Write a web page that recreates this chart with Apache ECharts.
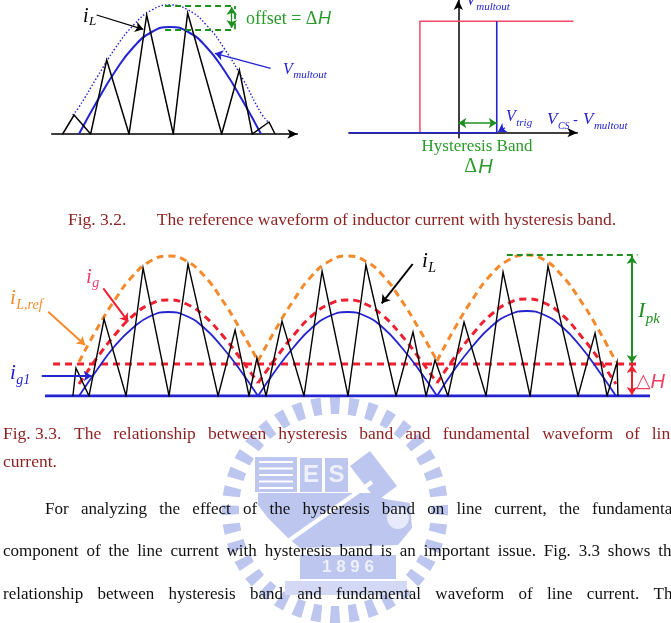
<!DOCTYPE html>
<html><head><meta charset="utf-8">
<script src="https://cdn.jsdelivr.net/npm/echarts@6/dist/echarts.min.js"></script>
<style>html,body{margin:0;padding:0;background:#fff;}#c{width:671px;height:623px;}</style>
</head><body><div id="c"></div>
<script>
// ---------------- data ----------------
// Fig 3.2 left : time (arbitrary, one half line-cycle = 10) vs. amplitude
const vMultout   = [[0,0],[1,0.33],[2,0.63],[3,0.87],[4,1.02],[5,1.07],[6,1.02],[7,0.87],[8,0.63],[9,0.33],[10,0]];
const vOffsetRef = [[-0.35,0.19],[0,0.27],[1,0.57],[2,0.86],[3,1.09],[4,1.24],[5,1.29],[6,1.24],[7,1.09],[8,0.85],[9,0.55],[10,0.21],[10.4,0.12]];
const iLRefWave  = [[-0.90,0],[-0.27,0.19],[0.64,0],[1.52,0.74],[2.75,0],[3.72,1.19],[5.18,0],[5.97,1.21],[7.84,0],[8.81,0.64],[9.52,0],[10.44,0.12],[10.77,0]];
// Fig 3.2 right : hysteresis comparator (x in units of Vtrig)
const hysRise = [[-1,0],[-1,1],[3,1]];
const hysFall = [[-2.85,0],[1,0],[1,1]];
// Fig 3.3 : time in ms (half line-cycle = 10 ms), current in p.u.
const halfCycleStart = [0, 10, 20];
const ig1Vals   = [[0,0.26,0.50,0.68,0.80,0.84,0.80,0.68,0.49,0.26,0],
                   [0,0.26,0.49,0.68,0.80,0.84,0.80,0.68,0.49,0.26,0],
                   [0,0.27,0.50,0.69,0.81,0.85,0.81,0.69,0.50,0.26,0]];
const igVals    = [[0.12,0.38,0.61,0.80,0.92,0.96,0.92,0.80,0.61,0.38,0.13],
                   [0.13,0.38,0.61,0.80,0.92,0.96,0.92,0.80,0.61,0.38,0.13],
                   [0.13,0.39,0.62,0.81,0.93,0.97,0.93,0.81,0.61,0.38,0.12]];
const iLrefVals = [[0.34,0.67,0.96,1.20,1.35,1.40,1.35,1.20,0.96,0.67,0.35],
                   [0.35,0.67,0.96,1.20,1.35,1.40,1.35,1.20,0.96,0.67,0.35],
                   [0.35,0.68,0.97,1.21,1.36,1.41,1.36,1.20,0.96,0.67,0.34]];
const iLWave = [[-0.34,0],[-0.17,0.28],[0.56,0],[1.40,0.77],[2.63,0],[3.58,1.28],[5.03,0],[6.09,1.32],[7.77,0],[8.72,0.66],[9.50,0],[9.94,0.38],[10.45,0],
                [11.34,0.75],[12.57,0],[13.58,1.25],[15.03,0],[16.03,1.31],[17.71,0],[18.66,0.64],[19.39,0],[19.89,0.36],[20.61,0],
                [21.51,0.74],[22.74,0],[23.69,1.24],[25.20,0],[26.20,1.30],[27.88,0],[28.83,0.63],[29.50,0],[30.06,0.34],[30.11,0]];
const hystLevel = [[-1.45,0.32],[31.2,0.32]];
const zeroLine  = [[-1.9,0],[31.9,0]];

// ---------------- styles ----------------
const BLUE='#2323d2', RDASH='#ef1f30', ORANGE='#f48a2c', GREEN='#1f8f1f', HRED='#f04a68', CAP='#8c1f1f';
const SERIF='"Liberation Serif"', SANS='"Liberation Sans"';

const cv=document.createElement('canvas'); const ctx=cv.getContext('2d');
function mw(t,f){ctx.font=f;return ctx.measureText(t).width;}
function T(x,y,text,font,fill,align){
  return {type:'text',x:x,y:y,z:50,silent:true,style:{text:text,font:font,fill:fill,
    align:align||'left',textAlign:align||'left',verticalAlign:'middle',textVerticalAlign:'middle'}};
}
function SUB(x,y,m,s,fill,ms,ss,dy,fam){
  fam=fam||SERIF;
  const fm='italic '+ms+'px '+fam, fs='italic '+ss+'px '+fam;
  const w=mw(m,fm);
  return [T(x,y,m,fm,fill),T(x+w+0.5,y+dy,s,fs,fill)];
}
function justify(words,x0,x1,y,font,fill){
  const ws=words.map(w=>mw(w,font)); const tot=ws.reduce((a,b)=>a+b,0);
  const gap=(x1-x0-tot)/(words.length-1); let x=x0; const out=[];
  words.forEach((w,i)=>{out.push(T(x,y,w,font,fill));x+=ws[i]+gap;});
  return out;
}

// ---------------- axes ----------------
const noAx={axisTick:{show:false},axisLabel:{show:false},splitLine:{show:false}};
const grids=[
  {left:51.7,width:245.7,top:4,height:130},
  {left:348.9,width:228.5,top:0,height:137.7},
  {left:34.25,width:626.5,top:246,height:150}
];
grids.forEach(g=>{g.outerBoundsMode='none';g.containLabel=false;});
const xAxes=[
  Object.assign({gridIndex:0,type:'value',min:-1.5,max:12,axisLine:{show:true,onZero:true,symbol:['none','arrow'],symbolSize:[7,10],lineStyle:{color:'#000',width:1.5}}},noAx),
  Object.assign({gridIndex:1,type:'value',min:-2.85,max:3.1,axisLine:{show:true,onZero:true,symbol:['none','arrow'],symbolSize:[7,10],lineStyle:{color:'#000',width:1.5}}},noAx),
  Object.assign({gridIndex:2,type:'value',min:-2.5,max:32.5,axisLine:{show:false}},noAx)
];
const yAxes=[
  Object.assign({gridIndex:0,type:'value',min:0,max:1.3,axisLine:{show:false}},noAx),
  Object.assign({gridIndex:1,type:'value',min:-0.045,max:1.19,axisLine:{show:true,onZero:true,symbol:['none','arrow'],symbolSize:[7,10],lineStyle:{color:'#000',width:1.5}}},noAx),
  Object.assign({gridIndex:2,type:'value',min:0,max:1.5,axisLine:{show:false}},noAx)
];

// ---------------- series ----------------
function L(g,data,color,width,type,smooth,z){
  return {type:'line',xAxisIndex:g,yAxisIndex:g,data:data,showSymbol:false,symbol:'none',silent:true,
    smooth:smooth||false,z:z||2,lineStyle:{color:color,width:width,type:type||'solid',cap:'butt',join:'miter'}};
}
function ARROW(g,from,to,color,width,both,dashed){
  return {type:'line',xAxisIndex:g,yAxisIndex:g,data:[],silent:true,
    markLine:{silent:true,animation:false,symbol:dashed?['none','none']:(both?['arrow','arrow']:['none','arrow']),symbolSize:8,
      label:{show:false},emphasis:{disabled:true},
      lineStyle:{color:color,width:width,type:dashed?[6,4]:'solid'},
      data:[[{coord:from},{coord:to}]]}};
}
const series=[];
// Fig 3.2 left
series.push(L(0,vOffsetRef,BLUE,1.4,[1.5,2],true));
series.push(L(0,vMultout,BLUE,2,'solid',true));
series.push(L(0,iLRefWave,'#000',1.5));
series.push(ARROW(0,[0.97,1.19],[3.53,1.047],'#000',1.3));
series.push(ARROW(0,[10.53,0.657],[7.47,0.807],BLUE,1.3));
series.push(ARROW(0,[8.39,1.06],[8.39,1.27],GREEN,1.3,true));
series.push(ARROW(0,[4.73,1.28],[8.57,1.28],GREEN,1.8,false,true));
series.push(ARROW(0,[4.73,1.047],[8.57,1.047],GREEN,1.8,false,true));
series.push(ARROW(0,[8.57,1.047],[8.57,1.28],GREEN,1.8,false,true));
// Fig 3.2 right
series.push(L(1,hysRise,HRED,1.5));
series.push(L(1,hysFall,BLUE,1.6,'solid',false,3));
series.push(ARROW(1,[0,0.087],[1,0.087],GREEN,1.5,true));
series.push(ARROW(1,[1.216,0.045],[1.034,0.009],BLUE,1.2));
// Fig 3.3
series.push(L(2,zeroLine,BLUE,3));
series.push(L(2,hystLevel,RDASH,3,[7,5]));
halfCycleStart.forEach((s,k)=>{
  series.push(L(2,iLrefVals[k].map((v,j)=>[s+j,v]),ORANGE,3,[7,5],true));
  series.push(L(2,igVals[k].map((v,j)=>[s+j,v]),RDASH,3,[7,5],true));
  series.push(L(2,ig1Vals[k].map((v,j)=>[s+j,v]),BLUE,1.8,'solid',true));
});
series.push(L(2,iLWave,'#000',1.4,'solid',false,4));
series.push(ARROW(2,[18.64,1.32],[16.91,0.927],'#000',2));
series.push(ARROW(2,[1.36,1.077],[2.75,0.743],RDASH,2));
series.push(ARROW(2,[-1.72,0.843],[0.335,0.51],ORANGE,2));
series.push(ARROW(2,[-2.08,0.2],[0.71,0.2],BLUE,2));
series.push(ARROW(2,[30.89,1.40],[30.89,0.33],GREEN,2,true));
series.push(ARROW(2,[30.89,0.31],[30.89,0.01],RDASH,2,true));
series.push(ARROW(2,[23.9,1.41],[31.2,1.41],GREEN,2.2,false,true));

// ---------------- graphic: watermark ----------------
const WM='#bcc6ee', els=[];
const C=[335,510];
for(let i=0;i<36;i++){
  const a=i*Math.PI*2/36, d=[Math.cos(a),Math.sin(a)], t=[-Math.sin(a),Math.cos(a)], r1=96,r2=113,w=4;
  const p=(r,s)=>[C[0]+r*d[0]+s*w*t[0],C[1]+r*d[1]+s*w*t[1]];
  els.push({type:'polygon',z:-5,silent:true,shape:{points:[p(r1,-1),p(r1,1),p(r2,1.3),p(r2,-1.3)]},style:{fill:WM}});
}
els.push({type:'rect',z:-5,silent:true,shape:{x:255,y:457,width:42,height:35},style:{fill:WM}});
for(let k=0;k<5;k++) els.push({type:'rect',z:-4,silent:true,shape:{x:259,y:461+k*6.5,width:34,height:2},style:{fill:'#fff'}});
els.push({type:'rect',z:-5,silent:true,shape:{x:300,y:458,width:22,height:34},style:{fill:WM}});
els.push({type:'rect',z:-5,silent:true,shape:{x:325,y:458,width:23,height:34},style:{fill:WM}});
els.push({type:'polygon',z:-5,silent:true,shape:{points:[[350,466],[370,451],[397,486],[377,501]]},style:{fill:WM}});
els.push({type:'polygon',z:-5,silent:true,shape:{points:[[258,493],[372,493],[385,499],[410,503],[412,528],[398,545],[300,548],[288,538],[268,518],[258,505]]},style:{fill:WM}});
els.push({type:'line',z:-4,silent:true,shape:{x1:281,y1:546,x2:372,y2:482},style:{stroke:'#fff',lineWidth:4}});
els.push({type:'circle',z:-4,silent:true,shape:{cx:398,cy:518,r:11},style:{fill:'#e6eafa'}});
els.push({type:'rect',z:-5,silent:true,shape:{x:300,y:555,width:96,height:24},style:{fill:WM}});
els.push({type:'rect',z:-5,silent:true,shape:{x:285,y:581,width:122,height:14},style:{fill:'#d3d9f4'}});
els.push(Object.assign(T(311,475,'E','bold 24px '+SANS,'#eef0fb','center'),{z:-3}));
els.push(Object.assign(T(336.5,475,'S','bold 24px '+SANS,'#eef0fb','center'),{z:-3}));
els.push(Object.assign(T(374,476,'A','bold 22px '+SANS,'#eef0fb','center'),{z:-3,rotation:0.6,originX:374,originY:476}));
els.push(Object.assign(T(348,567,'1 8 9 6','bold 17px '+SANS,'#eef0fb','center'),{z:-3}));

// ---------------- graphic: labels ----------------
els.push(...SUB(83,17,'i','L','#000',20,13,5));
{ const f='18px '+SERIF; const w=mw('offset = Δ',f);
  els.push(T(246,19,'offset = Δ',f,'#2a9a2a')); els.push(T(246+w+0.5,19,'H','italic 18px '+SANS,'#2a9a2a')); }
els.push(...SUB(283,70,'V','multout',BLUE,16,11,5));
els.push(...SUB(466,1,'V','multout',BLUE,16,11,6));
els.push(...SUB(506,117,'V','trig',BLUE,16,11,6));
els.push(...SUB(547,120,'V','CS',BLUE,17,10,6));
els.push(T(573,121,'-','15px '+SANS,BLUE));
els.push(...SUB(583,120,'V','multout',BLUE,17,11,6));
els.push(T(477,147,'Hysteresis Band','17px '+SERIF,'#2a9a2a','center'));
{ const f1='20px '+SERIF,f2='italic 20px '+SANS; const w1=mw('Δ',f1),w2=mw('H',f2); const x=478-(w1+w2)/2;
  els.push(T(x,167,'Δ',f1,'#2a9a2a')); els.push(T(x+w1+1,167,'H',f2,'#2a9a2a')); }
const cf='17.5px '+SERIF, bf='17px '+SERIF;
els.push(T(68,220,'Fig. 3.2.',cf,CAP));
els.push(T(616,220,'The reference waveform of inductor current with hysteresis band.',cf,CAP,'right'));
// Fig 3.3 labels
els.push(...SUB(422,261,'i','L','#000',21,14,7));
els.push(...SUB(86,277,'i','g','#e8406a',21,14,6));
els.push(...SUB(10,298,'i','L,ref',ORANGE,21,14,7));
els.push(...SUB(10,373,'i','g1',BLUE,21,14,7));
els.push(...SUB(638,311,'I','pk',GREEN,22,15,8));
{ const f1='19px "DejaVu Sans"'; const w1=mw('△',f1);
  els.push(T(636,382,'△',f1,'#f04060')); els.push(T(636+w1,382,'H','italic 20px '+SANS,'#f04060')); }
// captions and body text
els.push(T(3,434,'Fig. 3.3.',cf,CAP));
els.push(...justify('The relationship between hysteresis band and fundamental waveform of line'.split(' '),74,678,434,cf,CAP));
els.push(T(3,462,'current.',cf,CAP));
els.push(...justify('For analyzing the effect of the hysteresis band on line current, the fundamental'.split(' '),45,677,510,bf,'#111'));
els.push(...justify('component of the line current with hysteresis band is an important issue. Fig. 3.3 shows the'.split(' '),3,679,552,bf,'#111'));
els.push(...justify('relationship between hysteresis band and fundamental waveform of line current. The'.split(' '),3,680,595,bf,'#111'));

const chart=echarts.init(document.getElementById('c'),null,{renderer:'canvas'});
chart.setOption({animation:false,backgroundColor:'#fff',grid:grids,xAxis:xAxes,yAxis:yAxes,series:series,graphic:{elements:els}});
</script></body></html>
